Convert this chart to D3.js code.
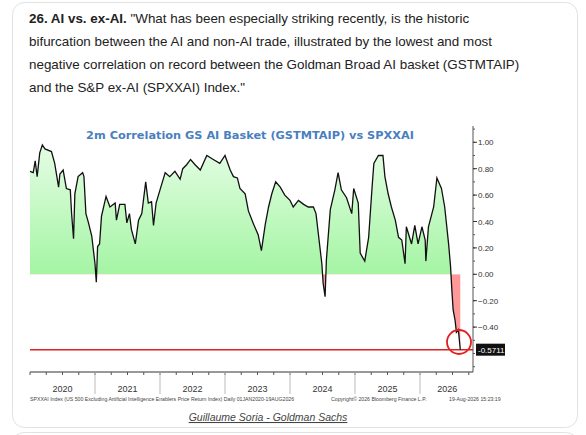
<!DOCTYPE html><html><head><meta charset="utf-8">
<script src="https://cdn.jsdelivr.net/npm/d3@7"></script>
<style>body{margin:0;background:#fff;font-family:"Liberation Sans",Arial,sans-serif}</style></head><body>
<svg id="c" width="586" height="435"></svg>
<script>
const dates=[2020.00,2020.05,2020.08,2020.11,2020.15,2020.19,2020.23,2020.33,2020.38,2020.44,2020.46,2020.51,2020.56,2020.62,2020.64,2020.67,2020.69,2020.74,2020.81,2020.83,2020.86,2020.90,2020.95,2021.00,2021.02,2021.04,2021.07,2021.10,2021.17,2021.23,2021.31,2021.33,2021.38,2021.46,2021.49,2021.53,2021.56,2021.62,2021.67,2021.72,2021.78,2021.82,2021.87,2021.90,2021.94,2022.00,2022.08,2022.15,2022.23,2022.31,2022.35,2022.41,2022.47,2022.54,2022.62,2022.72,2022.82,2022.92,2023.00,2023.08,2023.13,2023.19,2023.23,2023.31,2023.36,2023.44,2023.51,2023.56,2023.62,2023.67,2023.72,2023.78,2023.85,2023.92,2024.00,2024.05,2024.13,2024.21,2024.28,2024.36,2024.40,2024.44,2024.49,2024.51,2024.54,2024.56,2024.62,2024.69,2024.74,2024.79,2024.87,2024.95,2024.98,2025.05,2025.08,2025.15,2025.21,2025.26,2025.29,2025.36,2025.43,2025.46,2025.51,2025.56,2025.62,2025.67,2025.72,2025.77,2025.79,2025.87,2025.92,2025.97,2026.03,2026.08,2026.09,2026.13,2026.21,2026.26,2026.33,2026.38,2026.44,2026.47,2026.49,2026.51,2026.54,2026.56,2026.59,2026.62];
const values=[0.78,0.77,0.86,0.74,0.92,0.98,0.95,0.93,0.84,0.66,0.76,0.79,0.65,0.64,0.46,0.27,0.61,0.74,0.77,0.74,0.46,0.39,0.29,0.08,-0.06,0.21,0.23,0.44,0.59,0.51,0.54,0.41,0.53,0.53,0.39,0.46,0.34,0.23,0.41,0.46,0.70,0.54,0.55,0.37,0.54,0.64,0.77,0.74,0.78,0.72,0.80,0.83,0.87,0.83,0.79,0.90,0.87,0.84,0.90,0.79,0.74,0.73,0.65,0.61,0.48,0.38,0.30,0.18,0.38,0.51,0.61,0.70,0.66,0.60,0.56,0.51,0.56,0.53,0.51,0.51,0.46,0.29,0.08,-0.07,-0.17,0.11,0.49,0.64,0.77,0.64,0.58,0.46,0.65,0.54,0.16,0.10,0.28,0.64,0.84,0.90,0.90,0.74,0.61,0.51,0.41,0.28,0.26,0.08,0.36,0.23,0.37,0.23,0.36,0.26,0.10,0.36,0.51,0.73,0.65,0.51,0.23,0.06,-0.12,-0.27,-0.35,-0.44,-0.42,-0.5711];
const yearLabels=["2020","2021","2022","2023","2024","2025","2026"];
const yTicks=[1.0,0.8,0.6,0.4,0.2,0.0,-0.2,-0.4];
const lastValue=-0.5711;

const svg=d3.select("#c");
svg.append("rect").attr("x",12.5).attr("y",2.5).attr("width",565).attr("height",425).attr("rx",12).attr("fill","#fff").attr("stroke","#e2e2e2");
svg.append("rect").attr("x",12.5).attr("y",432.5).attr("width",565).attr("height",20).attr("rx",12).attr("fill","#fff").attr("stroke","#e2e2e2");
const hdr=[[["26. AI vs. ex-AI. ",true],["\"What has been especially striking recently, is the historic",false]],[["bifurcation between the AI and non-AI trade, illustrated by the lowest and most",false]],[["negative correlation on record between the Goldman Broad AI basket (GSTMTAIP)",false]],[["and the S&P ex-AI (SPXXAI) Index.\"",false]]];
hdr.forEach((ln,i)=>{const t=svg.append("text").attr("x",29).attr("y",23+i*23).attr("font-size",13.4).attr("fill","#222");
 ln.forEach(s=>t.append("tspan").attr("font-weight",s[1]?"bold":"normal").text(s[0]));});

const x=d3.scaleLinear().domain([2020,2027]).range([30,485]);
const y=d3.scaleLinear().domain([0,1]).range([274.3,142.3]);
const x0=30,x1=473,yb=372;
const defs=svg.append("defs");
const g=defs.append("linearGradient").attr("id","gr").attr("x1",0).attr("x2",0).attr("y1",0).attr("y2",1);
g.append("stop").attr("offset","0%").attr("stop-color","#e4fde4");
g.append("stop").attr("offset","100%").attr("stop-color","#7ff07f");
defs.append("clipPath").attr("id","pos").append("rect").attr("x",0).attr("y",0).attr("width",586).attr("height",y(0));
defs.append("clipPath").attr("id","neg").append("rect").attr("x",0).attr("y",y(0)).attr("width",586).attr("height",200);
const pts=dates.map((d,i)=>[d,values[i]]);
const area=d3.area().x(d=>x(d[0])).y0(y(0)).y1(d=>y(d[1]));
svg.append("path").datum(pts).attr("d",area).attr("fill","url(#gr)").attr("clip-path","url(#pos)");
svg.append("path").datum(pts).attr("d",area).attr("fill","#f99").attr("clip-path","url(#neg)");
svg.append("line").attr("x1",x0).attr("x2",x1).attr("y1",y(lastValue)).attr("y2",y(lastValue)).attr("stroke","#e02020").attr("stroke-width",1.5);
svg.append("path").datum(pts).attr("d",d3.line().x(d=>x(d[0])).y(d=>y(d[1]))).attr("fill","none").attr("stroke","#111").attr("stroke-width",1.3);
svg.append("text").attr("x",250).attr("y",139).attr("text-anchor","middle").attr("font-size",11.3).attr("font-weight","bold").attr("fill","#4a7fbf").attr("font-family","DejaVu Sans").text("2m Correlation GS AI Basket (GSTMTAIP) vs SPXXAI");
svg.append("line").attr("x1",x1).attr("x2",x1).attr("y1",126).attr("y2",yb).attr("stroke","#555");
const ya=svg.append("g");
d3.range(-0.7,1.11,0.1).forEach(v=>ya.append("line").attr("x1",x1).attr("x2",x1+2).attr("y1",y(v)).attr("y2",y(v)).attr("stroke","#555"));
yTicks.forEach(v=>{ya.append("line").attr("x1",x1).attr("x2",x1+4).attr("y1",y(v)).attr("y2",y(v)).attr("stroke","#333");
 ya.append("text").attr("x",x1+5).attr("y",y(v)+3).attr("font-size",8).attr("fill","#333").text(d3.format(".2f")(v));});
svg.append("rect").attr("x",476).attr("y",y(lastValue)-6).attr("width",29).attr("height",12).attr("fill","#111");
svg.append("text").attr("x",478).attr("y",y(lastValue)+3).attr("font-size",8).attr("fill","#fff").text(lastValue.toFixed(4));
svg.append("circle").attr("cx",459).attr("cy",342).attr("r",12).attr("fill","none").attr("stroke","#e02020").attr("stroke-width",1.8);
svg.append("line").attr("x1",x0).attr("x2",x1).attr("y1",yb).attr("y2",yb).attr("stroke","#333");
d3.range(2020,2026.9,0.25).forEach(v=>{const xx=x(v);if(xx<=x1)svg.append("line").attr("x1",xx).attr("x2",xx).attr("y1",yb).attr("y2",yb+3).attr("stroke","#555");});
yearLabels.forEach((l,i)=>{const yr=2020+i;
 if(i>0)svg.append("line").attr("x1",x(yr)).attr("x2",x(yr)).attr("y1",yb).attr("y2",yb+22).attr("stroke","#bbb");
 svg.append("text").attr("x",i<6?x(yr+0.5):x(yr+0.42)).attr("y",392).attr("text-anchor","middle").attr("font-size",9).attr("fill","#333").text(l);});
const ft=svg.append("g").attr("font-size",5.2).attr("fill","#444");
ft.append("text").attr("x",30).attr("y",401).text("SPXXAI Index (US 500 Excluding Artificial Intelligence Enablers Price Return Index) Daily 01JAN2020-19AUG2026");
ft.append("text").attr("x",331).attr("y",401).text("Copyright© 2026 Bloomberg Finance L.P.");
ft.append("text").attr("x",449).attr("y",401).text("19-Aug-2026 15:23:19");
svg.append("text").attr("x",268).attr("y",421).attr("text-anchor","middle").attr("font-size",10.5).attr("font-style","italic").attr("text-decoration","underline").attr("fill","#444").text("Guillaume Soria - Goldman Sachs");
</script></body></html>
